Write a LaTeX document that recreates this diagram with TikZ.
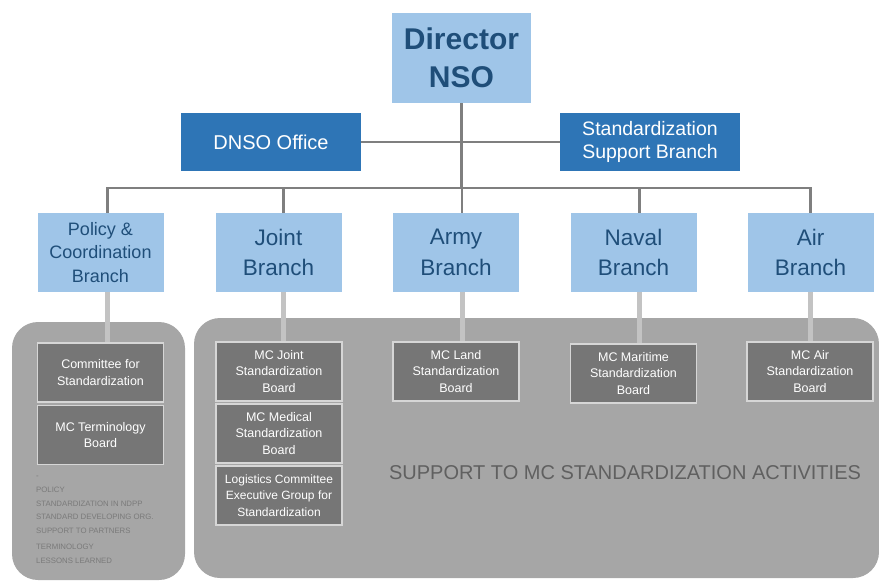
\documentclass[tikz,border=0pt]{standalone}
\usepackage{fontspec}
\setmainfont{Liberation Sans}
\definecolor{lblue}{HTML}{9FC5E8}
\definecolor{dblue}{HTML}{2E75B6}
\definecolor{navy}{HTML}{1F4E79}
\definecolor{panelc}{HTML}{A6A6A6}
\definecolor{subc}{HTML}{767676}
\definecolor{subedge}{HTML}{D6D6D6}
\definecolor{connc}{HTML}{7F7F7F}
\definecolor{glink}{HTML}{C3C3C3}
\definecolor{listc}{HTML}{7A7A7A}
\definecolor{suppc}{HTML}{606060}
\begin{document}
\begin{tikzpicture}[x=1pt,y=-1pt,
  topbox/.style={fill=lblue, minimum width=139pt, minimum height=90pt, inner sep=0pt, align=center, text=navy, font=\fontsize{30}{38}\selectfont\bfseries},
  officebox/.style={fill=dblue, minimum width=180pt, minimum height=58pt, inner sep=0pt, align=center, text=white},
  branchbox/.style={fill=lblue, minimum width=126pt, minimum height=79pt, inner sep=0pt, align=center, text=navy, font=\fontsize{22.5}{30.5}\selectfont},
  subbox/.style={fill=subc, draw=subedge, line width=1.2pt, minimum width=126pt, minimum height=59pt, inner sep=0pt, align=center, text=white, font=\fontsize{12.5}{16.8}\selectfont},
  panel/.style={fill=panelc, rounded corners=26pt},
  conn/.style={draw=connc, line width=2.2pt},
  glinkst/.style={draw=glink, line width=5pt},
  listtxt/.style={anchor=west, inner sep=0pt, text=listc, font=\fontsize{7.8}{9}\selectfont}
]
\useasboundingbox (0,0) rectangle (879,581);

% panels
\path[panel] (12,322) rectangle (185,580);
\path[panel] (194,318) rectangle (879,578);

% top
\node[topbox] (dir) at (461.5,58) {Director\\NSO};
\node[officebox, font=\fontsize{20}{24}\selectfont] (dnso) at (271,142) {DNSO Office};
\node[officebox, font=\fontsize{19.5}{23}\selectfont] (ssb) at (650,142) {Standardization\\Support Branch};

% branches
\node[branchbox, font=\fontsize{18}{23.5}\selectfont] (pol) at (100.5,252.5) {Policy \&\\Coordination\\Branch};
\node[branchbox] (joint) at (278.5,252.5) {Joint\\Branch};
\node[branchbox] (army) at (456,252.5) {Army\\Branch};
\node[branchbox] (naval) at (633.5,252.5) {Naval\\Branch};
\node[branchbox] (air) at (810.5,252.5) {Air\\Branch};

% sub boxes
\node[subbox] (comm) at (100.5,372.5) {Committee for\\Standardization};
\node[subbox] (term) at (100.5,435) {MC Terminology\\Board};
\node[subbox] (mcj) at (279,371.5) {MC Joint\\Standardization\\Board};
\node[subbox] (mcm) at (279,433.5) {MC Medical\\Standardization\\Board};
\node[subbox, font=\fontsize{12}{16.3}\selectfont] (log) at (279,495.5) {Logistics Committee\\Executive Group for\\Standardization};
\node[subbox] (mcl) at (456,371.5) {MC Land\\Standardization\\Board};
\node[subbox] (mcmar) at (633.5,373.5) {MC Maritime\\Standardization\\Board};
\node[subbox] (mca) at (810,371.5) {MC Air\\Standardization\\Board};

% connectors (top)
\coordinate (bus) at (0,188);
\draw[conn] (dnso.east) -- (dnso.east -| ssb.west);
\draw[conn] (dir.south) -- (dir.south |- bus);
\draw[conn] ([xshift=7pt]pol.north) |- (bus -| air.north) -- (air.north);
\draw[conn] ([xshift=5pt]joint.north) -- ([xshift=5pt]joint.north |- bus);
\draw[conn] ([xshift=6pt]army.north) -- ([xshift=6pt]army.north |- bus);
\draw[conn] ([xshift=6pt]naval.north) -- ([xshift=6pt]naval.north |- bus);

% connectors (gray)
\draw[glinkst] ([xshift=7pt]pol.south) -- ([xshift=7pt]pol.south |- comm.north);
\draw[glinkst] ([xshift=5pt]joint.south) -- ([xshift=5pt]joint.south |- mcj.north);
\draw[glinkst] ([xshift=6pt]army.south) -- ([xshift=6pt]army.south |- mcl.north);
\draw[glinkst] ([xshift=6pt]naval.south) -- ([xshift=6pt]naval.south |- mcmar.north);
\draw[glinkst] (air.south) -- (air.south |- mca.north);

% left list
\node[listtxt] (l0) at (36,477) {-};
\node[listtxt] (l1) at (36,490) {POLICY};
\node[listtxt] (l2) at (36,503.5) {STANDARDIZATION IN NDPP};
\node[listtxt] (l3) at (36,517) {STANDARD DEVELOPING ORG.};
\node[listtxt] (l4) at (36,530.5) {SUPPORT TO PARTNERS};
\node[listtxt] (l5) at (36,547) {TERMINOLOGY};
\node[listtxt] (l6) at (36,561) {LESSONS LEARNED};

% support text
\node[text=suppc, font=\fontsize{20}{24}\selectfont, inner sep=0pt] (supp) at (625,473) {SUPPORT TO MC STANDARDIZATION ACTIVITIES};
\end{tikzpicture}
\end{document}
